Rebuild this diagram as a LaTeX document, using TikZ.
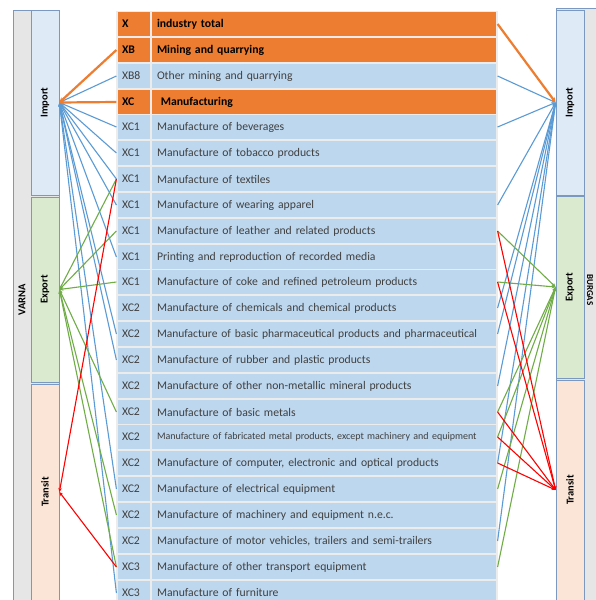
\documentclass[tikz,border=0pt]{standalone}
\usepackage{fontspec}
\setmainfont{Carlito}
\usepackage{tikz}
\usetikzlibrary{positioning,shapes,arrows.meta}
\usepackage{xcolor}
\definecolor{cellblue}{HTML}{BDD7EE}
\definecolor{cellorange}{HTML}{ED7D31}
\definecolor{impfill}{HTML}{DEEBF7}
\definecolor{expfill}{HTML}{D9EACE}
\definecolor{trafill}{HTML}{FBE5D6}
\definecolor{barfill}{HTML}{E7E6E6}
\definecolor{barline}{HTML}{7A98C0}
\definecolor{lineblue}{HTML}{5B9BD5}
\definecolor{linegreen}{HTML}{70AD47}
\definecolor{textgray}{HTML}{404040}
\tikzstyle{codecell}=[rectangle, fill=cellblue, draw=gray!15, line width=1.2pt, minimum width=34pt,
minimum height=25.8pt, inner xsep=5pt, text width=24pt, align=left, text=textgray,
font=\fontsize{11.7}{13}\selectfont]
\tikzstyle{namecell}=[codecell, minimum width=346pt, inner xsep=6pt, text width=334pt]
\tikzstyle{hotcode}=[codecell, fill=cellorange, text=black, font=\fontsize{11.7}{13}\selectfont\bfseries]
\tikzstyle{hotname}=[namecell, fill=cellorange, text=black, font=\fontsize{11.7}{13}\selectfont\bfseries]
\tikzstyle{sidebox}=[rectangle, draw=barline, line width=0.8pt, minimum width=28pt, inner sep=0pt,
font=\fontsize{10.5}{12}\selectfont\bfseries]
\tikzstyle{outerbar}=[rectangle, draw=barline, fill=barfill, line width=0.8pt, inner sep=0pt]
\tikzstyle{impline}=[lineblue, line width=1.1pt, -{Stealth[length=4pt,width=3.5pt]}]
\tikzstyle{expline}=[linegreen, line width=1.1pt, -{Stealth[length=4pt,width=3.5pt]}]
\tikzstyle{traline}=[red, line width=1.1pt, -{Stealth[length=4pt,width=3.5pt]}]
\tikzstyle{totline}=[cellorange, line width=2.2pt, -{Stealth[length=5pt,width=5pt]}]

\begin{document}
\begin{tikzpicture}[x=1pt,y=-1pt]
            \clip (0,0) rectangle (596,600);
            \fill[white] (0,0) rectangle (596,600);
            % side bars
            \node (varna)[outerbar, minimum width=46pt, minimum height=600pt] at (36,310) {};
            \node (vlab)[font=\fontsize{10.5}{12}\selectfont\bfseries] at (22,300) {\rotatebox{90}{VARNA}};
            \node (vimp)[sidebox, fill=impfill, minimum height=185pt] at (45,102.5) {\rotatebox{90}{Import}};
            \node (vexp)[sidebox, fill=expfill, minimum height=185pt] at (45,289.5) {\rotatebox{90}{Export}};
            \node (vtra)[sidebox, fill=trafill, minimum height=216pt] at (45,492) {\rotatebox{90}{Transit}};
            \node (burgas)[outerbar, minimum width=54pt, minimum height=602pt] at (583,309) {};
            \node (blab)[font=\fontsize{9}{11}\selectfont\bfseries] at (590,290) {\rotatebox{-90}{BURGAS}};
            \node (bimp)[sidebox, fill=impfill, minimum height=185pt] at (570,102.5) {\rotatebox{90}{Import}};
            \node (bexp)[sidebox, fill=expfill, minimum height=182pt] at (570,287) {\rotatebox{90}{Export}};
            \node (btra)[sidebox, fill=trafill, minimum height=220pt] at (570,490) {\rotatebox{90}{Transit}};

            % table
            \node (c0)[hotcode] at (134,24) {X};
            \node (n0)[hotname] at (324,24) {industry total};
            \node (c1)[hotcode] at (134,50) {XB};
            \node (n1)[hotname] at (324,50) {Mining and quarrying};
            \node (c2)[codecell] at (134,76) {XB8};
            \node (n2)[namecell] at (324,76) {Other mining and quarrying};
            \node (c3)[hotcode] at (134,102) {XC};
            \node (n3)[hotname] at (324,102) {\ Manufacturing};
            \node (c4)[codecell] at (134,127) {XC1};
            \node (n4)[namecell] at (324,127) {Manufacture of beverages};
            \node (c5)[codecell] at (134,153) {XC1};
            \node (n5)[namecell] at (324,153) {Manufacture of tobacco products};
            \node (c6)[codecell] at (134,179) {XC1};
            \node (n6)[namecell] at (324,179) {Manufacture of textiles};
            \node (c7)[codecell] at (134,205) {XC1};
            \node (n7)[namecell] at (324,205) {Manufacture of wearing apparel};
            \node (c8)[codecell] at (134,231) {XC1};
            \node (n8)[namecell] at (324,231) {Manufacture of leather and related products};
            \node (c9)[codecell] at (134,257) {XC1};
            \node (n9)[namecell] at (324,257) {Printing and reproduction of recorded media};
            \node (c10)[codecell] at (134,282) {XC1};
            \node (n10)[namecell] at (324,282) {Manufacture of coke and refined petroleum products};
            \node (c11)[codecell] at (134,308) {XC2};
            \node (n11)[namecell] at (324,308) {Manufacture of chemicals and chemical products};
            \node (c12)[codecell] at (134,334) {XC2};
            \node (n12)[namecell, font=\fontsize{11.5}{13}\selectfont] at (324,334) {Manufacture of basic pharmaceutical products and pharmaceutical};
            \node (c13)[codecell] at (134,360) {XC2};
            \node (n13)[namecell] at (324,360) {Manufacture of rubber and plastic products};
            \node (c14)[codecell] at (134,386) {XC2};
            \node (n14)[namecell] at (324,386) {Manufacture of other non-metallic mineral products};
            \node (c15)[codecell] at (134,412) {XC2};
            \node (n15)[namecell] at (324,412) {Manufacture of basic metals};
            \node (c16)[codecell] at (134,437) {XC2};
            \node (n16)[namecell, font=\fontsize{10}{12}\selectfont] at (324,437) {Manufacture of fabricated metal products, except machinery and equipment};
            \node (c17)[codecell] at (134,463) {XC2};
            \node (n17)[namecell] at (324,463) {Manufacture of computer, electronic and optical products};
            \node (c18)[codecell] at (134,489) {XC2};
            \node (n18)[namecell] at (324,489) {Manufacture of electrical equipment};
            \node (c19)[codecell] at (134,515) {XC2};
            \node (n19)[namecell] at (324,515) {Manufacture of machinery and equipment n.e.c.};
            \node (c20)[codecell] at (134,541) {XC2};
            \node (n20)[namecell] at (324,541) {Manufacture of motor vehicles, trailers and semi-trailers};
            \node (c21)[codecell] at (134,567) {XC3};
            \node (n21)[namecell] at (324,567) {Manufacture of other transport equipment};
            \node (c22)[codecell] at (134,593) {XC3};
            \node (n22)[namecell] at (324,593) {Manufacture of furniture};

            % Varna side
            \foreach \r in {2,4,5,6,7,9,12,13,18,22}
                \draw[impline] (c\r.west) -- (vimp.east);
            \foreach \r in {6,8,10,15,19,21}
                \draw[expline] (c\r.west) -- (vexp.east);
            \foreach \r in {6,21}
                \draw[traline] (c\r.west) -- (vtra.east);
            \draw[totline] (c1.west) -- (vimp.east);
            \draw[totline] (c3.west) -- (vimp.east);

            % Burgas side
            \foreach \r in {2,4,7,11,12,14,17,20}
                \draw[impline] (n\r.east) -- (bimp.west);
            \foreach \r in {8,10,15,16,18,21}
                \draw[expline] (n\r.east) -- (bexp.west);
            \foreach \r in {8,10,15,16,17}
                \draw[traline] (n\r.east) -- (btra.west);
            \draw[totline] (n0.east) -- (bimp.west);
        \end{tikzpicture}
\end{document}
